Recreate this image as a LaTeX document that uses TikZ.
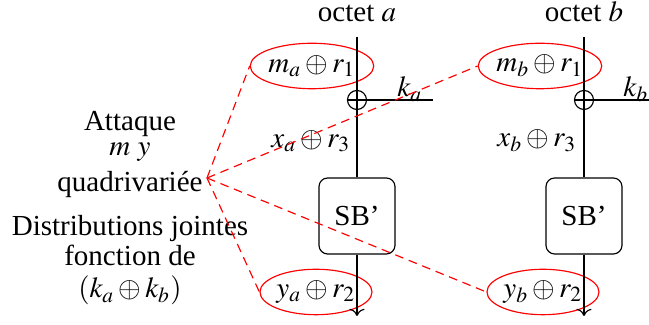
\documentclass[tikz,border=0pt]{standalone}
\usepackage{mathptmx}
\usepackage{fontspec}
\setmainfont{Liberation Serif}
\usetikzlibrary{arrows.meta, positioning, shapes.geometric}
\definecolor{MaskRed}{HTML}{FF0000}
\tikzset{
  maskoval/.style={draw=MaskRed, ellipse, inner sep=0pt, minimum width=1.31cm, minimum height=0.55cm},
  sbox/.style={draw, rounded corners=3pt, minimum width=0.92cm, minimum height=0.92cm},
  xorop/.style={circle, draw, inner sep=0pt, minimum size=0.23cm,
    path picture={\draw (path picture bounding box.north) -- (path picture bounding box.south)
                        (path picture bounding box.west) -- (path picture bounding box.east);}},
  textline/.style={anchor=base, inner sep=0pt},
  wire/.style={draw, thin},
  linkline/.style={draw=MaskRed, thin, dash pattern=on 3pt off 2pt}
}

\begin{document}
\begin{tikzpicture}[x=0.0121cm, y=-0.0121cm]
\useasboundingbox (0,0) rectangle (649,325);
% octet a
\node[anchor=base] (octa) at (357,22) {octet $a$};
\coordinate (ta) at (357,37);
\node[xorop] (xa) at (357,100) {};
\coordinate (ka) at (433,100);
\node[sbox] (sba) at (357,216) {SB'};
\coordinate (ba) at (357,316);
\node[maskoval] (ma) at (312,66) {$m_a\oplus r_1$};
\node (xra) at (311,141) {$x_a\oplus r_3$};
\node (kla) at (410,89) {$k_a$};
\node[maskoval] (ya) at (316,292) {$y_a\oplus r_2$};
\draw[wire] (ta) -- (xa);
\draw[wire] (xa) -- (sba);
\draw[wire, ->] (sba) -- (ba);
\draw[wire] (xa) -- (ka);
% octet b
\node[anchor=base] (octb) at (584,22) {octet $b$};
\coordinate (tb) at (584,37);
\node[xorop] (xb) at (584,100) {};
\coordinate (kb) at (649,100);
\node[sbox] (sbb) at (584,216) {SB'};
\coordinate (bb) at (584,316);
\node[maskoval] (mb) at (540,66) {$m_b\oplus r_1$};
\node (xrb) at (537,141) {$x_b\oplus r_3$};
\node (klb) at (636,89) {$k_b$};
\node[maskoval] (yb) at (543,292) {$y_b\oplus r_2$};
\draw[wire] (tb) -- (xb);
\draw[wire] (xb) -- (sbb);
\draw[wire, ->] (sbb) -- (bb);
\draw[wire] (xb) -- (kb);
% attaque
\node[textline] (att1) at (130,131) {Attaque};
\node[textline] (att2) at (130,156) {$m\ y$};
\node[textline] (att3) at (130,192) {quadrivariée};
\node[textline] (dist1) at (130,236) {Distributions jointes};
\node[textline] (dist2) at (130,266) {fonction de};
\node[textline] (dist3) at (130,298) {$(k_a\oplus k_b)$};
\coordinate (src) at (207,178);
\draw[linkline] (src) -- (ma.west);
\draw[linkline] (src) -- (mb.west);
\draw[linkline] (src) -- (ya.west);
\draw[linkline] (src) -- (yb.west);
\end{tikzpicture}
\end{document}
